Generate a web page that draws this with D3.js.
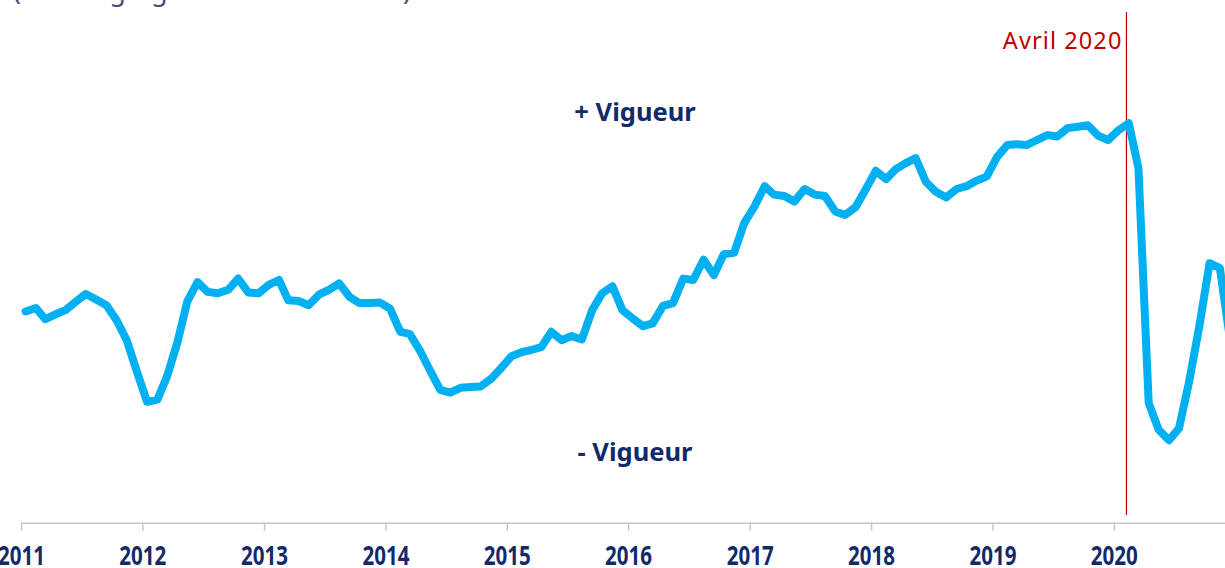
<!DOCTYPE html>
<html>
<head>
<meta charset="utf-8">
<script src="https://cdn.jsdelivr.net/npm/d3@7"></script>
<style>
  html, body { margin: 0; padding: 0; background: #fff; overflow: hidden; }
  svg { display: block; }
</style>
</head>
<body>
<figure id="chart" style="margin:0"></figure>
<script>
// monthly aggregate score, Jan 2011 -> Dec 2020
const years = [2011, 2012, 2013, 2014, 2015, 2016, 2017, 2018, 2019, 2020];
const scores = [
  0.55, 0.60, 0.44, 0.51, 0.57, 0.69, 0.80, 0.72, 0.64, 0.43, 0.14, -0.30,   // 2011
  -0.74, -0.71, -0.38, 0.10, 0.69, 0.97, 0.83, 0.81, 0.86, 1.02, 0.82, 0.81, // 2012
  0.93, 1.00, 0.71, 0.70, 0.64, 0.79, 0.86, 0.95, 0.76, 0.67, 0.67, 0.68,    // 2013
  0.59, 0.26, 0.23, -0.01, -0.29, -0.57, -0.61, -0.54, -0.53, -0.52, -0.41, -0.26, // 2014
  -0.09, -0.03, 0.00, 0.04, 0.26, 0.14, 0.20, 0.15, 0.57, 0.81, 0.91, 0.57,  // 2015
  0.45, 0.34, 0.38, 0.63, 0.67, 1.02, 1.00, 1.29, 1.07, 1.37, 1.39, 1.81,    // 2016
  2.05, 2.34, 2.22, 2.20, 2.12, 2.30, 2.22, 2.20, 1.98, 1.93, 2.04, 2.29,    // 2017
  2.56, 2.44, 2.58, 2.67, 2.74, 2.40, 2.26, 2.18, 2.30, 2.34, 2.42, 2.48,    // 2018
  2.76, 2.93, 2.94, 2.93, 3.00, 3.07, 3.05, 3.17, 3.19, 3.21, 3.06, 3.00,    // 2019
  3.14, 3.24, 2.60, -0.76, -1.14, -1.29, -1.12, -0.44, 0.36, 1.24, 1.17, 0.17 // 2020
];
const labels = ["+ Vigueur", "- Vigueur"];
const subtitle = "(score agrégé de 11 indicateurs)";
const markerLabel = "Avril 2020";
const markerDate = new Date(2020, 1, 8);

const width = 1225;
const height = 568;
const axisY = 522.7;
const navy = "#12296a";

const data = scores.map((v, i) => ({ date: new Date(2011, i, 15), value: v }));

const svg = d3.select("figure#chart")
  .append("svg")
  .attr("width", width)
  .attr("height", height);

// x: one year ~121.45px, 2011 tick at x=21
const x = d3.scaleTime()
  .domain([new Date(2011, 0, 1), new Date(2021, 0, 1)])
  .range([21, 21 + 10 * 121.45]);

const y = d3.scaleLinear()
  .domain([-2, 4])
  .range([490, 70]);

// subtitle, cut off by the top of the frame
svg.append("text")
  .attr("x", 13)
  .attr("y", 0)
  .attr("font-family", "Noto Sans, sans-serif")
  .attr("font-size", 26.5)
  .attr("fill", "#3d4b7c")
  .text(subtitle);

// x axis
const axis = svg.append("g")
  .attr("transform", "translate(0," + axisY + ")")
  .call(d3.axisBottom(x)
    .tickValues(years.map(yr => new Date(yr, 0, 1)))
    .tickFormat(d3.timeFormat("%Y"))
    .tickSize(8)
    .tickSizeOuter(0));

axis.select(".domain").attr("stroke", "#c6c6c6").attr("stroke-width", 1.5);
axis.selectAll(".tick line").attr("stroke", "#c6c6c6").attr("stroke-width", 1.5);
axis.selectAll(".tick text")
  .attr("y", 42)
  .attr("dy", 0)
  .attr("fill", navy)
  .attr("font-family", "Noto Sans, sans-serif")
  .attr("font-weight", "bold")
  .attr("font-size", 26)
  .attr("textLength", 47)
  .attr("lengthAdjust", "spacingAndGlyphs");

// vertical marker
svg.append("line")
  .attr("x1", x(markerDate))
  .attr("x2", x(markerDate))
  .attr("y1", 12)
  .attr("y2", 515)
  .attr("stroke", "#c00000")
  .attr("stroke-width", 1.2);

svg.append("text")
  .attr("x", x(markerDate) - 4)
  .attr("y", 49)
  .attr("text-anchor", "end")
  .attr("font-family", "Noto Sans, sans-serif")
  .attr("font-size", 23.5)
  .attr("letter-spacing", 1.1)
  .attr("fill", "#c00000")
  .text(markerLabel);

// the score line
const line = d3.line()
  .x(d => x(d.date))
  .y(d => y(d.value));

svg.append("path")
  .datum(data)
  .attr("d", line)
  .attr("fill", "none")
  .attr("stroke", "#00b0f0")
  .attr("stroke-width", 8)
  .attr("stroke-linejoin", "round")
  .attr("stroke-linecap", "round");

// vigour labels
svg.selectAll("text.vig")
  .data(labels)
  .enter()
  .append("text")
  .attr("class", "vig")
  .attr("x", 635)
  .attr("y", (d, i) => i === 0 ? 121 : 461)
  .attr("text-anchor", "middle")
  .attr("font-family", "Noto Sans, sans-serif")
  .attr("font-weight", "bold")
  .attr("font-size", 25.5)
  .attr("fill", navy)
  .text(d => d);
</script>
</body>
</html>
